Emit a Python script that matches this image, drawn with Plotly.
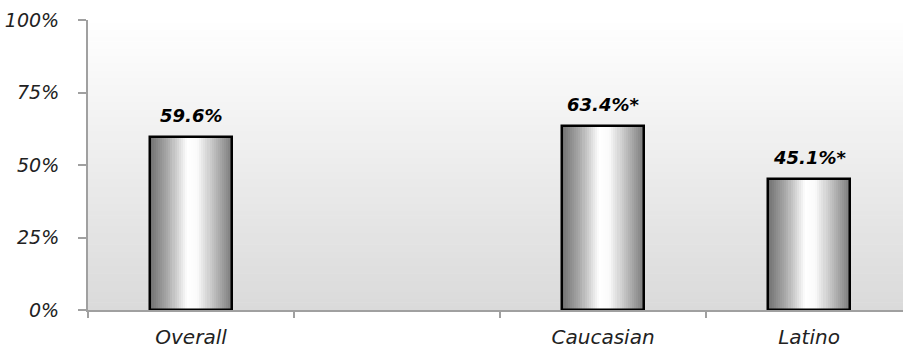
import plotly.graph_objects as go

categories = ['Overall', ' ', 'Caucasian', 'Latino']
values = [59.6, None, 63.4, 45.1]
labels = ['59.6%', '', '63.4%*', '45.1%*']
y_ticks = [0, 25, 50, 75, 100]
y_tick_text = ['0%', '25%', '50%', '75%', '100%']

FONT = 'DejaVu Sans'
BAR_W = 0.40
N_SLICES = 40


def mix(c1, c2, t):
    return tuple(round(a + (b - a) * t) for a, b in zip(c1, c2))


# horizontal "cylinder" shading of the bars
stops = [(0.0, (112, 112, 112)), (0.22, (170, 170, 170)), (0.45, (255, 255, 255)),
         (0.58, (250, 250, 250)), (1.0, (122, 122, 122))]


def shade(t):
    for (p0, c0), (p1, c1) in zip(stops[:-1], stops[1:]):
        if t <= p1:
            return 'rgb(%d,%d,%d)' % mix(c0, c1, (t - p0) / (p1 - p0))
    return 'rgb(%d,%d,%d)' % stops[-1][1]


fig = go.Figure()
for i in range(N_SLICES):
    fig.add_trace(go.Bar(
        x=categories,
        y=values,
        width=BAR_W / N_SLICES * 1.05,
        offset=-BAR_W / 2 + i * BAR_W / N_SLICES,
        marker=dict(color=shade((i + 0.5) / N_SLICES), line=dict(width=0)),
        hoverinfo='skip',
        showlegend=False,
    ))

# outline on top
fig.add_trace(go.Bar(
    x=categories,
    y=values,
    width=BAR_W,
    marker=dict(color='rgba(0,0,0,0)', line=dict(color='black', width=2.5)),
    showlegend=False,
))

for c, v, t in zip(categories, values, labels):
    if v is None:
        continue
    fig.add_annotation(
        x=c, y=v, text='<b><i>%s</i></b>' % t, showarrow=False,
        yanchor='bottom', yshift=9,
        font=dict(family=FONT, size=18, color='black'),
    )

# vertical background gradient white -> light gray
n_bands = 80
for i in range(n_bands):
    g = round(255 - (255 - 218) * (i + 0.5) / n_bands)
    fig.add_shape(
        type='rect', xref='x domain', yref='y domain',
        x0=0, x1=1, y0=1 - (i + 1) / n_bands, y1=1 - i / n_bands + 0.002,
        fillcolor='rgb(%d,%d,%d)' % (g, g, g), line=dict(width=0), layer='below',
    )

fig.update_layout(
    width=903,
    height=356,
    margin=dict(l=88, r=0, t=20, b=46),
    barmode='overlay',
    bargap=0,
    paper_bgcolor='white',
    plot_bgcolor='rgba(0,0,0,0)',
    font=dict(family=FONT, color='#222'),
    xaxis=dict(
        type='category',
        categoryorder='array',
        categoryarray=categories,
        range=[-0.5, 3.456],
        showgrid=False,
        showline=True,
        linecolor='#a0a0a0',
        linewidth=2,
        ticks='outside',
        tickson='boundaries',
        ticklen=6,
        tickwidth=2,
        tickcolor='#a0a0a0',
        ticklabelstandoff=8,
        tickfont=dict(family=FONT, size=20, style='italic', color='#222'),
        zeroline=False,
    ),
    yaxis=dict(
        range=[0, 100],
        tickvals=y_ticks,
        ticktext=y_tick_text,
        showgrid=False,
        showline=True,
        linecolor='#a0a0a0',
        linewidth=2,
        ticks='outside',
        ticklen=8,
        tickwidth=2,
        tickcolor='#a0a0a0',
        ticklabelstandoff=15,
        tickfont=dict(family=FONT, size=19, style='italic', color='#222'),
        zeroline=False,
    ),
)

fig.write_html('out.html', config={'displayModeBar': False},
               post_script="document.body.style.margin='0';")
